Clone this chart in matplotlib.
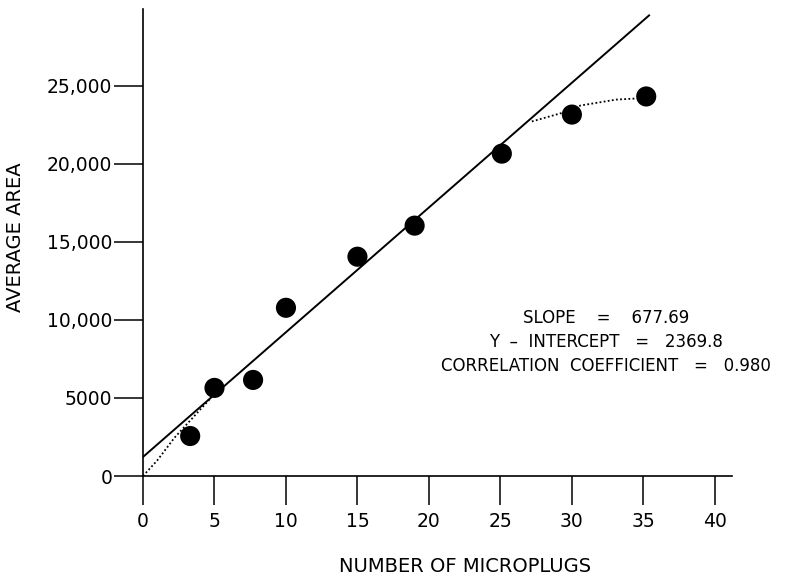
import matplotlib
matplotlib.use('Agg')
import matplotlib.pyplot as plt

# data
microplugs = [3.3, 5.0, 7.7, 10.0, 15.0, 19.0, 25.1, 30.0, 35.2]
avg_area = [2560, 5640, 6150, 10770, 14040, 16030, 20640, 23140, 24300]

# fitted line as drawn
fit_x = [0.0, 35.4]
fit_y = [1220, 29490]

# dotted curves
low_x = [0.0, 1.0, 2.2, 3.5, 4.8]
low_y = [0, 1000, 2450, 3750, 5050]
high_x = [27.2, 29.4, 30.6, 33.1, 34.5]
high_y = [22700, 23270, 23720, 24100, 24170]

x_ticks = [0, 5, 10, 15, 20, 25, 30, 35, 40]
y_ticks = [0, 5000, 10000, 15000, 20000, 25000]
y_tick_labels = ['0', '5000', '10,000', '15,000', '20,000', '25,000']

stats_text = ('SLOPE    =    677.69\n'
              'Y  \u2013  INTERCEPT   =   2369.8\n'
              'CORRELATION  COEFFICIENT   =   0.980')

plt.rcParams['font.family'] = ['DejaVu Sans']

fig = plt.figure(figsize=(7.89, 5.77), dpi=100)
ax = fig.add_axes([143 / 789., 1 - 476 / 577., 589 / 789., 467 / 577.])

ax.plot(fit_x, fit_y, color='black', lw=1.4, zorder=2)
ax.plot(low_x, low_y, color='black', lw=1.3, ls=(0, (1, 1.3)), zorder=2)
ax.plot(high_x, high_y, color='black', lw=1.3, ls=(0, (1, 1.3)), zorder=2)
ax.scatter(microplugs, avg_area, s=210, color='black', zorder=3,
           edgecolors='none')

ax.set_xlim(0, 41.2)
ax.set_ylim(0, 29900)
ax.set_xticks(x_ticks)
ax.set_yticks(y_ticks)
ax.set_yticklabels(y_tick_labels)
ax.tick_params(direction='out', length=21, width=1.1, labelsize=13.5,
               color='black')
ax.tick_params(axis='x', pad=5)
ax.tick_params(axis='y', pad=1)

for side in ['top', 'right']:
    ax.spines[side].set_visible(False)
for side in ['left', 'bottom']:
    ax.spines[side].set_linewidth(1.2)

fig.text(606 / 789., 1 - 342 / 577., stats_text, ha='center', va='center',
         fontsize=12, linespacing=1.45)

fig.text(465 / 789., 1 - 566 / 577., 'NUMBER OF MICROPLUGS', ha='center',
         va='center', fontsize=14)
fig.text(16 / 789., 1 - 237 / 577., 'AVERAGE AREA', ha='center',
         va='center', rotation=90, fontsize=14)

fig.savefig('out.png', dpi=100)
